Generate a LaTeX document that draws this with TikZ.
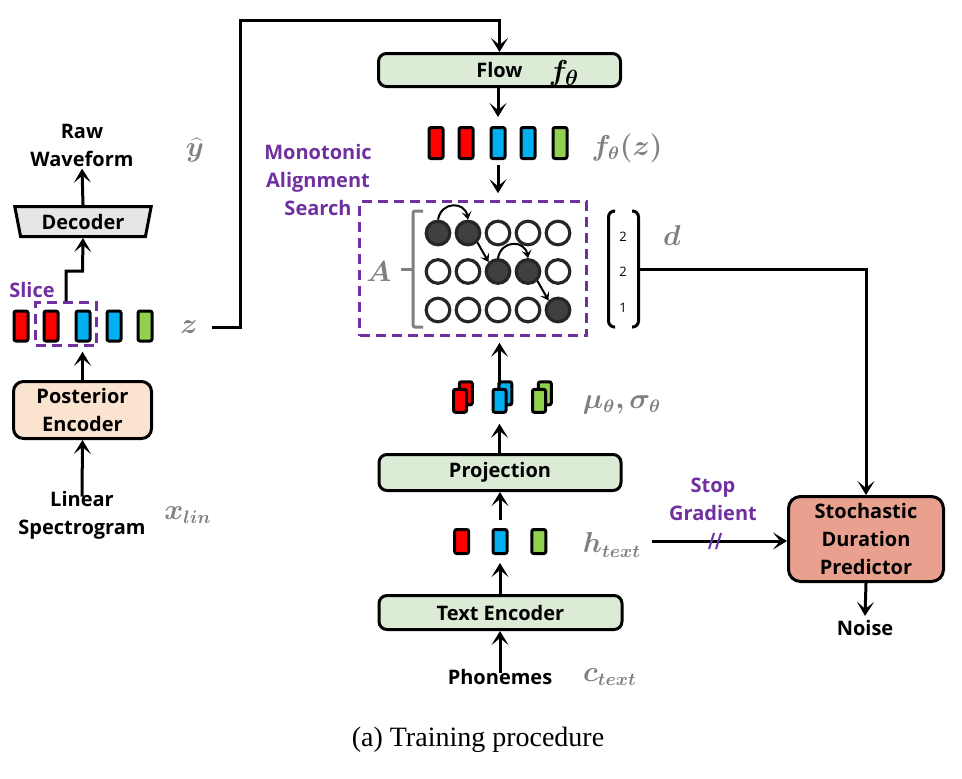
\documentclass[tikz,border=0pt]{standalone}
\usepackage[no-math]{fontspec}
\setmainfont{Open Sans}
\newfontfamily\capfont{Liberation Serif}
\usepackage{bm}
\usetikzlibrary{arrows.meta,shapes.geometric,calc}
\definecolor{bred}{RGB}{255,0,0}
\definecolor{bblue}{RGB}{0,176,240}
\definecolor{bgreen}{RGB}{146,208,80}
\definecolor{mpurple}{RGB}{112,48,160}
\definecolor{lgray}{RGB}{128,128,128}
\definecolor{cdark}{RGB}{64,64,64}
\definecolor{cline}{RGB}{38,38,38}
\definecolor{gfill}{RGB}{220,235,213}
\definecolor{pfill}{RGB}{250,228,208}
\definecolor{sfill}{RGB}{233,160,142}
\definecolor{dfill}{RGB}{230,230,230}
\newcommand\mytf{\fontsize{10}{14}\selectfont\bfseries}
\newcommand\mymf{\fontsize{13.5}{16}\selectfont}
\begin{document}
\begin{tikzpicture}[x=0.5pt,y=-0.5pt,
  arr/.style={line width=1.5pt,-{Stealth[length=7pt,width=8.5pt,inset=3.5pt]}},
  sarr/.style={line width=1pt,-{Stealth[length=4pt,width=5pt,inset=1.8pt]}},
  gbox/.style={draw,line width=1.5pt,rounded corners=4pt,fill=gfill,font=\mytf,align=center,inner sep=0pt},
  txt/.style={font=\mytf,align=center,inner sep=1pt},
  ptxt/.style={font=\mytf,align=center,inner sep=1pt,text=mpurple},
  glab/.style={font=\mymf,text=lgray,inner sep=1pt},
  bar/.style={draw,line width=1.5pt,rounded corners=1pt,minimum width=7pt,minimum height=15pt,inner sep=0pt},
  cir/.style={circle,draw=cline,line width=1.6pt,minimum size=11.8pt,inner sep=0pt},
  mdash/.style={draw=mpurple,line width=1.3pt,dash pattern=on 5pt off 3pt}
]
\useasboundingbox (0,0) rectangle (962,778);

% ---------- left column ----------
\node[txt] (raw) at (82,145) {Raw\\Waveform};
\node[glab] (yhat) at (195,150) {$\bm{\widehat{y}}$};
\node[trapezium,trapezium stretches=true,shape border rotate=180,
      trapezium left angle=76,trapezium right angle=76,
      minimum width=68.5pt,minimum height=15pt,inner sep=0pt,
      draw,line width=1.5pt,fill=dfill,font=\mytf] (dec) at (83,221.5) {Decoder};
\node[ptxt] (slicel) at (32,290) {Slice};
\foreach \x/\cl [count=\i] in {21/bred,51/bred,83/bblue,114/bblue,145/bgreen}
  \node[bar,fill=\cl] (lb\i) at (\x,326) {};
\node[mdash,minimum width=30.5pt,minimum height=21.5pt,inner sep=0pt] (slice) at (66,324) {};
\node[glab] (zl) at (189,327) {$\bm{z}$};
\node[draw,line width=1.5pt,rounded corners=5pt,fill=pfill,font=\mytf,align=center,
      minimum width=69pt,minimum height=28.5pt,inner sep=0pt] (post) at (82.5,410) {Posterior\\Encoder};
\node[txt] (lin) at (82,515) {Linear\\Spectrogram};
\node[glab] (xlin) at (188,515) {$\bm{x_{lin}}$};

\coordinate (jog) at (82.5,271);
\draw[arr] (slice.north) |- (jog) -- (dec.south);
\draw[arr] (dec.north) -- (raw.south);
\draw[arr] (post.north) -- ([yshift=-2.5pt]post.north |- slice.south);
\draw[arr] ([yshift=-4pt]lin.north) -- (post.south);

% ---------- flow ----------
\node[gbox,minimum width=121pt,minimum height=16.5pt] (flow) at (499.5,70) {Flow};
\node[font=\fontsize{15}{17}\selectfont,inner sep=1pt] (fth) at (564,73) {$\bm{f_\theta}$};
\coordinate (zc) at (240,20);
\draw[arr] ([xshift=6pt]zl.east) -| (zc) -| (flow.north);

\foreach \x/\cl [count=\i] in {436/bred,466/bred,498/bblue,528/bblue,560/bgreen}
  \node[bar,fill=\cl,minimum height=15.5pt] (fz\i) at (\x,143) {};
\node[glab] (fzl) at (627,148) {$\bm{f_\theta(z)}$};
\draw[arr] (flow.south -| fz3) -- ([yshift=4.5pt]fz3.north);

% ---------- MAS ----------
\node[ptxt] (masl) at (318,180) {Monotonic\\Alignment\\Search};
\node[mdash,minimum width=113.5pt,minimum height=67pt,inner sep=0pt] (mas) at (473,268.5) {};
\draw[arr] ([yshift=-2.5pt]fz3.south) -- ([yshift=3.5pt]mas.north -| fz3);

\foreach \c/\fc in {1/cdark,2/cdark,3/white,4/white,5/white}
  \node[cir,fill=\fc] (c1\c) at ({438+30*(\c-1)},233) {};
\foreach \c/\fc in {1/white,2/white,3/cdark,4/cdark,5/white}
  \node[cir,fill=\fc] (c2\c) at ({438+30*(\c-1)},271.5) {};
\foreach \c/\fc in {1/white,2/white,3/white,4/white,5/cdark}
  \node[cir,fill=\fc] (c3\c) at ({438+30*(\c-1)},310) {};
\draw[sarr] (c11.north) to[out=80,in=100,looseness=1.6] (c12.north);
\draw[sarr] (c12.south east) -- (c23.north west);
\draw[sarr] (c23.north) to[out=80,in=100,looseness=1.6] (c24.north);
\draw[sarr] (c24.south east) -- (c35.north west);

\node[glab] (Al) at (379,272) {$\bm{A}$};
\coordinate (br) at (413,269);
\draw[lgray,line width=1.5pt,rounded corners=1pt] (423,211) -- (413,211) -- (413,327) -- (423,327);
\draw[lgray,line width=1.5pt] (br) -- ++(-12,0);

\node[minimum width=16pt,minimum height=58pt,inner sep=0pt] (dvec) at (623.5,269) {};
\draw[line width=1.5pt,rounded corners=3pt] (615,211) -- (608.5,211) -- (608.5,327) -- (615,327);
\draw[line width=1.5pt,rounded corners=3pt] (632,211) -- (638.5,211) -- (638.5,327) -- (632,327);
\node[font=\fontsize{6.5}{8}\selectfont,inner sep=0pt] (d1) at (623,237) {2};
\node[font=\fontsize{6.5}{8}\selectfont,inner sep=0pt] (d2) at (623,272) {2};
\node[font=\fontsize{6.5}{8}\selectfont,inner sep=0pt] (d3) at (623,308) {1};
\node[glab] (dl) at (672,235) {$\bm{d}$};

% ---------- mu sigma ----------
\foreach \x/\cl [count=\i] in {460/bred,499.5/bblue,539/bgreen}{
  \node[bar,fill=\cl,minimum width=6.5pt,minimum height=11.5pt] (mb\i) at (\x+5.8,393.3) {};
  \node[bar,fill=\cl,minimum width=6.5pt,minimum height=11.5pt] (mf\i) at (\x,400.8) {};
}
\node[glab] (msl) at (622,405) {$\bm{\mu_\theta,\sigma_\theta}$};
\draw[arr] ([yshift=1.5pt]mf2.north) -- ([yshift=-3pt]mas.south -| mf2);

\node[gbox,minimum width=121pt,minimum height=18pt] (proj) at (500,472.5) {Projection};
\draw[arr] (proj.north -| mf2) -- ([yshift=-5pt]mf2.south);

\foreach \x/\cl [count=\i] in {461.7/bred,500/bblue,538.8/bgreen}
  \node[bar,fill=\cl,minimum height=12pt] (hb\i) at (\x,541.5) {};
\node[glab] (hl) at (612,545) {$\bm{h_{text}}$};
\draw[arr] ([yshift=4pt]hb2.north) -- (proj.south -| hb2);

\node[gbox,minimum width=121.5pt,minimum height=17pt] (te) at (500.5,612.5) {Text Encoder};
\draw[arr] (te.north -| hb2) -- ([yshift=-4pt]hb2.south);
\node[txt] (ph) at (500,677) {Phonemes};
\node[glab] (cl) at (610,677) {$\bm{c_{text}}$};
\draw[arr] ([yshift=-3pt]ph.north) -- (te.south -| ph);

% ---------- SDP ----------
\node[draw,line width=1.5pt,rounded corners=6pt,fill=sfill,font=\mytf,align=center,
      minimum width=77.5pt,minimum height=42.5pt,inner sep=0pt] (sdp) at (866,539) {Stochastic\\Duration\\Predictor};
\node[txt] (noise) at (865,628) {Noise};
\draw[arr] (sdp.south) -- ([yshift=1pt]noise.north);
\draw[arr] (dvec.east) -| (sdp.north);
\coordinate (hs) at (652,541);
\draw[arr] (hs) -- (hs -| sdp.west);
\node[ptxt] (sgl) at (713,499) {Stop\\Gradient};
\coordinate (sl) at (715,541);
\draw[mpurple,line width=1pt] ($(sl)+(-6,8)$) -- ($(sl)+(-1,-8)$) ($(sl)+(1,8)$) -- ($(sl)+(6,-8)$);

% ---------- caption ----------
\node[font=\capfont\fontsize{14}{16}\selectfont] (cap) at (478,740) {(a) Training procedure};
\end{tikzpicture}
\end{document}
